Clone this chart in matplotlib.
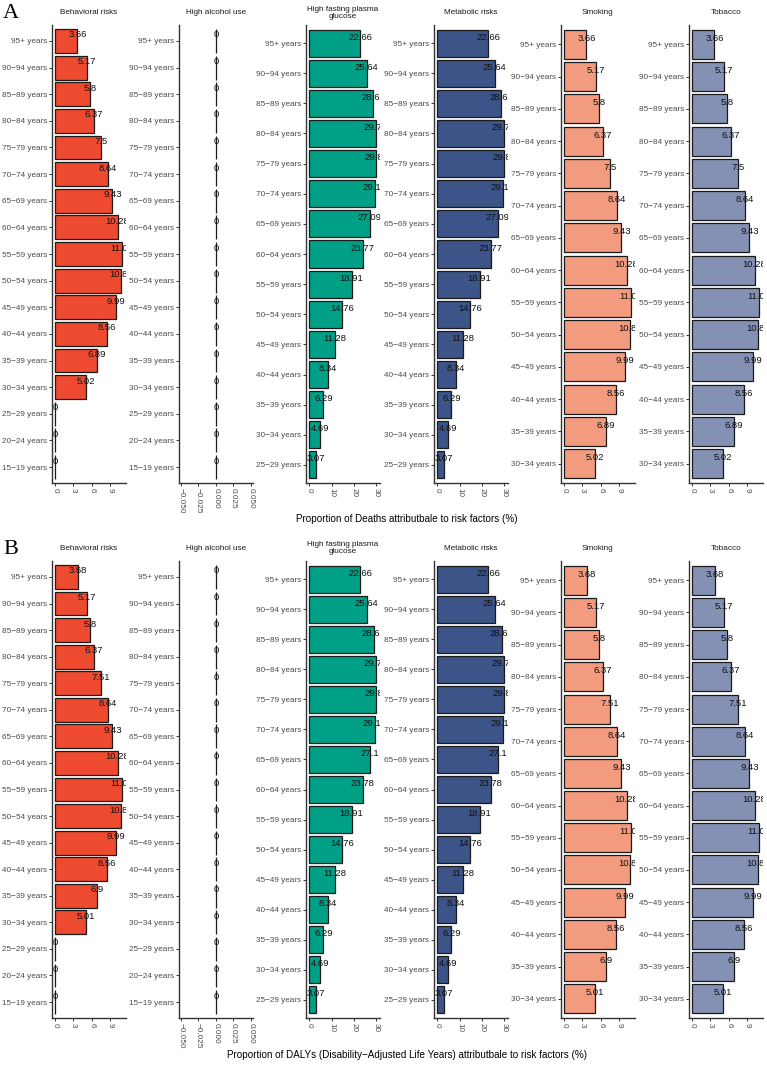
import matplotlib
matplotlib.use("Agg")
import matplotlib.pyplot as plt
from matplotlib.transforms import offset_copy

plt.rcParams['font.family'] = ['Liberation Sans', 'DejaVu Sans']

# ---------------- data ----------------
ages_all = ["15−19 years", "20−24 years", "25−29 years", "30−34 years", "35−39 years",
            "40−44 years", "45−49 years", "50−54 years", "55−59 years", "60−64 years",
            "65−69 years", "70−74 years", "75−79 years", "80−84 years", "85−89 years",
            "90−94 years", "95+ years"]
ages_from25 = ages_all[2:]
ages_from30 = ages_all[3:]

facet_titles = ["Behavioral risks", "High alcohol use", "High fasting plasma\nglucose",
                "Metabolic risks", "Smoking", "Tobacco"]
facet_colors = ["#EE4A2F", "#4DBBD5", "#00A087", "#3C5488", "#F39B7F", "#8491B4"]

# Panel A: deaths
deaths_behavioral = [0, 0, 0, 5.02, 6.89, 8.56, 9.99, 10.86, 11.04, 10.28, 9.43, 8.64, 7.5, 6.37, 5.8, 5.17, 3.66]
deaths_alcohol = [0, 0, 0, 0, 0, 0, 0, 0, 0, 0, 0, 0, 0, 0, 0, 0, 0]
deaths_hfpg = [3.07, 4.69, 6.29, 8.34, 11.28, 14.76, 18.91, 23.77, 27.09, 29.15, 29.87, 29.73, 28.68, 25.64, 22.66]
deaths_metabolic = [3.07, 4.69, 6.29, 8.34, 11.28, 14.76, 18.91, 23.77, 27.09, 29.15, 29.87, 29.73, 28.68, 25.64, 22.66]
deaths_smoking = [5.02, 6.89, 8.56, 9.99, 10.86, 11.04, 10.28, 9.43, 8.64, 7.5, 6.37, 5.8, 5.17, 3.66]
deaths_tobacco = [5.02, 6.89, 8.56, 9.99, 10.86, 11.04, 10.28, 9.43, 8.64, 7.5, 6.37, 5.8, 5.17, 3.66]

# Panel B: DALYs
dalys_behavioral = [0, 0, 0, 5.01, 6.9, 8.56, 9.99, 10.86, 11.04, 10.28, 9.43, 8.64, 7.51, 6.37, 5.8, 5.17, 3.68]
dalys_alcohol = [0, 0, 0, 0, 0, 0, 0, 0, 0, 0, 0, 0, 0, 0, 0, 0, 0]
dalys_hfpg = [3.07, 4.69, 6.29, 8.34, 11.28, 14.76, 18.91, 23.78, 27.1, 29.16, 29.86, 29.74, 28.68, 25.64, 22.66]
dalys_metabolic = [3.07, 4.69, 6.29, 8.34, 11.28, 14.76, 18.91, 23.78, 27.1, 29.16, 29.86, 29.74, 28.68, 25.64, 22.66]
dalys_smoking = [5.01, 6.9, 8.56, 9.99, 10.86, 11.04, 10.28, 9.43, 8.64, 7.51, 6.37, 5.8, 5.17, 3.68]
dalys_tobacco = [5.01, 6.9, 8.56, 9.99, 10.86, 11.04, 10.28, 9.43, 8.64, 7.51, 6.37, 5.8, 5.17, 3.68]

ticks_small = [0, 3, 6, 9]
ticks_alcohol = [-0.05, -0.025, 0, 0.025, 0.05]
ticklabels_alcohol = ["−0.050", "−0.025", "0.000", "0.025", "0.050"]
ticks_large = [0, 10, 20, 30]

xtitle_A = "Proportion of Deaths attributbale to risk factors (%)"
xtitle_B = "Proportion of DALYs (Disability−Adjusted Life Years) attributbale to risk factors (%)"

# ---------------- layout ----------------
W, H = 767, 1067
fig = plt.figure(figsize=(W / 100, H / 100), dpi=100)

facet_left_px = [52, 179, 306, 434, 561, 689]
facet_w_px = 73.5

GRAY = "#4D4D4D"
AX = "#333333"


def draw_panel(top_px, bottom_px, series, xtitle, letter, strip_y, xtitle_y):
    for k, (ages, vals) in enumerate(series):
        left = facet_left_px[k] / W
        ax = fig.add_axes([left, 1 - bottom_px / H, facet_w_px / W, (bottom_px - top_px) / H])
        n = len(ages)
        ypos = list(range(n))
        ax.barh(ypos, vals, height=0.9, color=facet_colors[k], edgecolor="#1a1a1a", linewidth=0.9)
        m = max(vals)
        if m > 0:
            ax.set_xlim(-0.05 * m, 1.05 * m)
        else:
            ax.set_xlim(-0.0525, 0.0525)
        ax.set_ylim(-0.6, n - 0.4)
        trans = offset_copy(ax.transData, fig=fig, x=0, y=6, units='dots')
        for yi, v in zip(ypos, vals):
            ax.text(v, yi, f"{v:g}", transform=trans, ha="center", va="center",
                    fontsize=6.8, color="#111111", clip_on=True)
        ax.set_yticks(ypos)
        ax.set_yticklabels(ages)
        if k == 1:
            ax.set_xticks(ticks_alcohol)
            ax.set_xticklabels(ticklabels_alcohol)
        elif k in (2, 3):
            ax.set_xticks(ticks_large)
            ax.set_xticklabels([str(t) for t in ticks_large])
        else:
            ax.set_xticks(ticks_small)
            ax.set_xticklabels([str(t) for t in ticks_small])
        for lab in ax.get_xticklabels():
            lab.set_rotation(-90)
            lab.set_va("top")
            lab.set_ha("center")
        ax.tick_params(axis="both", labelsize=5.9, labelcolor=GRAY, color=AX,
                       length=2.2, width=0.7, pad=1.5)
        for s in ("top", "right"):
            ax.spines[s].set_visible(False)
        for s in ("left", "bottom"):
            ax.spines[s].set_color(AX)
            ax.spines[s].set_linewidth(1.0)
        ax.set_facecolor("white")
        # strip title
        cx = (facet_left_px[k] + facet_w_px / 2) / W
        fig.text(cx, 1 - strip_y / H, facet_titles[k], ha="center", va="center",
                 fontsize=5.9, color="#1a1a1a", linespacing=1.0)
    fig.text(407 / W, 1 - xtitle_y / H, xtitle, ha="center", va="center", fontsize=7.1, color="black")
    fig.text(3 / W, 1 - (top_px - 11) / H, letter, ha="left", va="center",
             fontsize=16, family="Liberation Serif", color="black")


draw_panel(25, 483,
           [(ages_all, deaths_behavioral), (ages_all, deaths_alcohol), (ages_from25, deaths_hfpg),
            (ages_from25, deaths_metabolic), (ages_from30, deaths_smoking), (ages_from30, deaths_tobacco)],
           xtitle_A, "A", 13, 519)
draw_panel(561, 1018,
           [(ages_all, dalys_behavioral), (ages_all, dalys_alcohol), (ages_from25, dalys_hfpg),
            (ages_from25, dalys_metabolic), (ages_from30, dalys_smoking), (ages_from30, dalys_tobacco)],
           xtitle_B, "B", 548, 1055)

fig.savefig("out.png", dpi=100, facecolor="white")
